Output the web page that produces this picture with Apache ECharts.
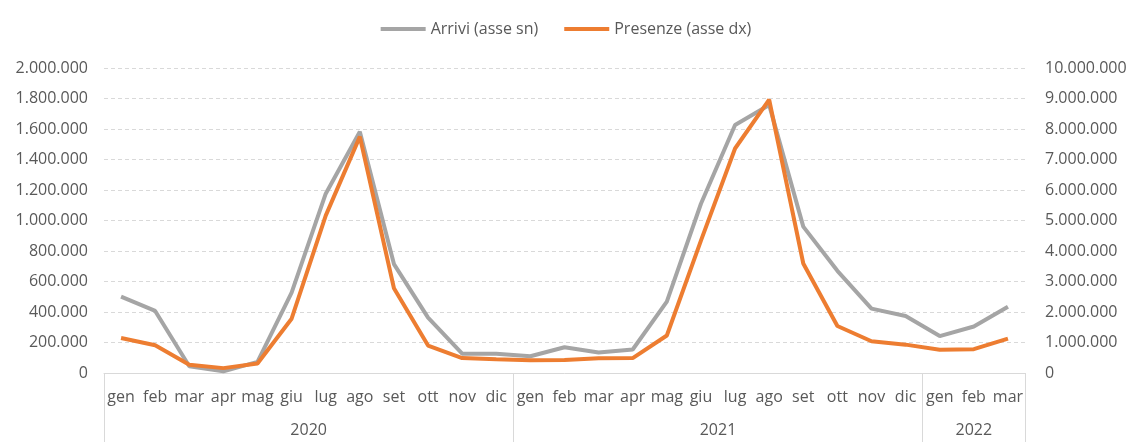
<!DOCTYPE html>
<html>
<head>
<meta charset="utf-8">
<script src="https://cdn.jsdelivr.net/npm/echarts@6/dist/echarts.min.js"></script>
<style>
  html, body { margin: 0; padding: 0; background: #fff; }
  #chart { width: 1132px; height: 442px; }
</style>
</head>
<body>
<div id="chart"></div>
<script>
// mesi (etichette asse x)
var months = ['gen', 'feb', 'mar', 'apr', 'mag', 'giu', 'lug', 'ago', 'set', 'ott', 'nov', 'dic',
              'gen', 'feb', 'mar', 'apr', 'mag', 'giu', 'lug', 'ago', 'set', 'ott', 'nov', 'dic',
              'gen', 'feb', 'mar']
var years = ['2020', '2021', '2022']
var yearMonths = [12, 12, 3]

// Arrivi (asse sn)
var arrivi = [501000, 407000, 44000, 11000, 73000, 527000, 1176000, 1582000, 714000, 363000, 127000, 127000,
              110000, 169000, 134000, 154000, 468000, 1110000, 1626000, 1758000, 960000, 670000, 422000, 374000,
              242000, 305000, 435000]
// Presenze (asse dx)
var presenze = [1150000, 910000, 270000, 160000, 310000, 1780000, 5160000, 7750000, 2780000, 900000, 490000, 450000,
                420000, 430000, 480000, 490000, 1230000, 4340000, 7360000, 8960000, 3590000, 1540000, 1040000, 930000,
                760000, 780000, 1130000]

var leftTicks = { min: 0, max: 2000000, interval: 200000 }
var rightTicks = { min: 0, max: 10000000, interval: 1000000 }

var fmt = function (v) {
    return String(Math.round(v)).replace(/\B(?=(\d{3})+(?!\d))/g, '.')
}

// confini e centri dei gruppi anno
var bounds = [0]
var centers = []
yearMonths.forEach(function (n) {
    var start = bounds[bounds.length - 1]
    centers.push(start + n / 2)
    bounds.push(start + n)
})

var textColor = '#595959'
var lineColor = '#d9d9d9'
var font = 'Open Sans'
var fs = 16

var chart = echarts.init(document.getElementById('chart'))

var option = {
    backgroundColor: '#fff',
    textStyle: { fontFamily: font },
    legend: {
        top: 16,
        left: 'center',
        icon: 'rect',
        itemWidth: 45,
        itemHeight: 4,
        itemGap: 26,
        textStyle: { color: textColor, fontSize: fs, fontFamily: font },
        data: ['Arrivi (asse sn)', 'Presenze (asse dx)']
    },
    grid: {
        left: 104,
        right: 107,
        top: 68,
        bottom: 69
    },
    xAxis: [
        {
            type: 'category',
            data: months,
            boundaryGap: true,
            axisLine: { lineStyle: { color: lineColor, width: 1 } },
            axisTick: { show: false },
            axisLabel: {
                interval: 0,
                hideOverlap: false,
                margin: 16,
                color: textColor,
                fontSize: fs,
                fontFamily: font
            },
            splitLine: { show: false }
        },
        {
            type: 'value',
            min: 0,
            max: bounds[bounds.length - 1],
            position: 'bottom',
            axisLine: { show: false },
            splitLine: { show: false },
            axisTick: {
                show: true,
                customValues: bounds,
                length: 69,
                lineStyle: { color: lineColor, width: 1 }
            },
            axisLabel: {
                customValues: centers,
                margin: 49,
                color: textColor,
                fontSize: fs,
                fontFamily: font,
                formatter: function (v) {
                    var i = centers.indexOf(v)
                    return i >= 0 ? years[i] : ''
                }
            }
        }
    ],
    yAxis: [
        {
            type: 'value',
            min: leftTicks.min,
            max: leftTicks.max,
            interval: leftTicks.interval,
            axisLine: { show: false },
            axisTick: { show: false },
            axisLabel: {
                margin: 16,
                color: textColor,
                fontSize: fs,
                fontFamily: font,
                formatter: fmt
            },
            splitLine: {
                lineStyle: { color: lineColor, type: [4, 3], width: 1 }
            }
        },
        {
            type: 'value',
            min: rightTicks.min,
            max: rightTicks.max,
            interval: rightTicks.interval,
            axisLine: { show: false },
            axisTick: { show: false },
            axisLabel: {
                margin: 20,
                color: textColor,
                fontSize: fs,
                fontFamily: font,
                formatter: fmt
            },
            splitLine: { show: false }
        }
    ],
    series: [
        {
            name: 'Arrivi (asse sn)',
            type: 'line',
            xAxisIndex: 0,
            yAxisIndex: 0,
            symbol: 'none',
            data: arrivi,
            lineStyle: { color: '#a5a5a5', width: 4 },
            itemStyle: { color: '#a5a5a5' },
            z: 2
        },
        {
            name: 'Presenze (asse dx)',
            type: 'line',
            xAxisIndex: 0,
            yAxisIndex: 1,
            symbol: 'none',
            data: presenze,
            lineStyle: { color: '#ed7d31', width: 4 },
            itemStyle: { color: '#ed7d31' },
            z: 3
        }
    ]
}

chart.setOption(option)
</script>
</body>
</html>
